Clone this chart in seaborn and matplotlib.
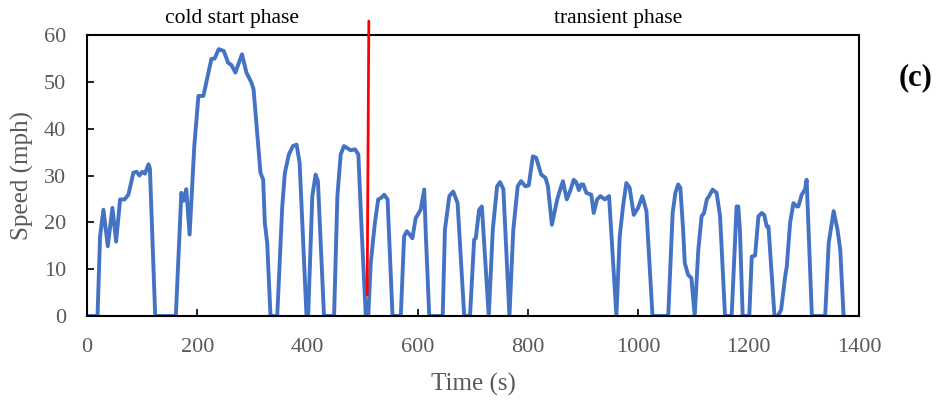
import matplotlib
matplotlib.use("Agg")
import matplotlib.pyplot as plt
import seaborn as sns
import pandas as pd

# ---- data ----
time_s = [0, 19, 23.6, 29.7, 37.6, 46, 52.7, 60, 68, 75, 84, 90, 95, 100, 105, 111.5, 114, 123.6,
          161, 171, 175, 180, 186, 194.5, 202, 211, 217.6, 225.5, 231.5, 238.8, 248, 255.8, 261.8,
          269, 281, 289, 298, 302, 314.5, 319.4, 322.4, 326.7, 332.7, 344.9, 354, 358.8, 366, 373.3,
          380, 385.5, 398, 401, 408.5, 414.5, 418.7, 429.7, 448, 454, 460, 466, 478, 486, 492, 498,
          505.5, 510, 514.5, 522, 528, 533, 539, 545, 554, 569, 575, 580, 585, 590, 596, 605, 611.5,
          614.5, 620.6, 645, 649, 657, 664, 672, 684, 694.5, 702, 705, 711, 716, 728.5, 735.8, 743.6,
          749, 755, 766, 773, 781, 787, 795, 801, 808.5, 814.5, 823.6, 831.5, 835.8, 843, 852.7, 857,
          863, 870, 877, 882.5, 887, 892, 896, 900, 905.5, 914.5, 918.8, 925, 931, 939, 946.7, 960,
          966, 972, 978, 984, 991.5, 999.4, 1007, 1014.5, 1025.5, 1054, 1062, 1067, 1072, 1076, 1081,
          1084, 1090, 1096, 1102, 1108.5, 1114.5, 1119, 1124, 1128, 1134.5, 1141.8, 1148, 1157, 1169,
          1178, 1181, 1184, 1189, 1201, 1205.5, 1211.5, 1217.6, 1223.6, 1228, 1232.7, 1235.8, 1246.7,
          1252.7, 1258.7, 1266, 1269, 1275, 1281, 1287, 1290, 1296, 1302, 1305, 1314.5, 1338.7, 1345,
          1354, 1361, 1366, 1372]
speed_mph = [0, 0, 17, 22.7, 14.9, 23.1, 15.9, 24.9, 24.9, 25.9, 30.6, 30.8, 30, 30.8, 30.4, 32.4, 31.5, 0,
             0, 26.3, 24.6, 27.1, 17.4, 36.3, 47, 47, 50.6, 54.9, 55, 57, 56.6, 54.1, 53.6,
             52, 55.9, 52, 49.9, 48.4, 30.6, 29.1, 19.9, 15.6, 0, 0, 23.4, 30.6, 34.5, 36.3,
             36.6, 32.7, 0, 0, 25.6, 30.2, 28.8, 0, 0, 25.6, 34.5, 36.3, 35.4, 35.6, 34.5, 18.4,
             0, 0, 11.3, 19.9, 24.9, 25.2, 25.9, 24.9, 0, 0, 17, 18.1, 17.4, 16.6, 20.9, 22.7, 27,
             17, 0, 0, 18.4, 25.6, 26.6, 24.1, 0, 0, 16.3, 16.6, 22.7, 23.4, 0, 18.4, 27.7,
             28.6, 27.1, 0, 18.4, 27.7, 28.8, 27.7, 27.9, 34.1, 33.8, 30.2, 29.5, 27.7, 19.5, 24.9, 26.6,
             28.8, 24.9, 27, 29.1, 28.6, 26.9, 28.1, 28.1, 26.3, 25.9, 22, 24.9, 25.6, 24.9, 25.6, 0,
             17, 23.4, 28.4, 27.4, 21.6, 23.1, 25.6, 22.4, 0, 0, 22, 26.3, 28.1, 27.4, 18.4,
             11.3, 8.8, 8.1, 0, 14.1, 21.3, 22, 24.9, 25.6, 27, 26.3, 21.3, 0, 0,
             23.4, 23.4, 18.4, 0, 0, 12.7, 12.9, 21.3, 22, 21.6, 19.1, 19.1, 0,
             0, 1.3, 8.4, 10.6, 19.9, 24.1, 23.4, 23.4, 25.9, 27, 29.1, 0, 0, 15.6,
             22.4, 18.4, 14.1, 0]

boundary_time = [511, 508]
boundary_speed = [63, 4.5]

x_ticks = [0, 200, 400, 600, 800, 1000, 1200, 1400]
y_ticks = [0, 10, 20, 30, 40, 50, 60]
phase_labels = ["cold start phase", "transient phase"]
panel_label = "(c)"

df = pd.DataFrame({"Time (s)": time_s, "Speed (mph)": speed_mph})

sns.set_theme(style="ticks")
plt.rcParams["font.family"] = ["Liberation Serif", "DejaVu Serif"]
plt.rcParams["xtick.direction"] = "in"
plt.rcParams["ytick.direction"] = "in"

fig = plt.figure(figsize=(9.38, 4.01), dpi=100)
ax = fig.add_axes([0.0928, 0.212, 0.823, 0.7005])

sns.lineplot(data=df, x="Time (s)", y="Speed (mph)", ax=ax, color="#4472C4",
             linewidth=2.8, estimator=None, sort=False,
             solid_joinstyle="round", solid_capstyle="round")
ax.plot(boundary_time, boundary_speed, color="#FF0000", linewidth=2.0, clip_on=False, zorder=5)

ax.set_xlim(0, 1400)
ax.set_ylim(0, 60)
ax.set_xticks(x_ticks)
ax.set_yticks(y_ticks)
ax.tick_params(axis="both", labelsize=16, labelcolor="#595959", length=5, width=1.2, color="black")
ax.tick_params(axis="x", pad=16)
ax.tick_params(axis="y", pad=15)
for s in ax.spines.values():
    s.set_visible(True)
    s.set_linewidth(1.5)
    s.set_color("black")
ax.set_xlabel("Time (s)", fontsize=18, color="#595959", labelpad=11)
ax.set_ylabel("Speed (mph)", fontsize=18, color="#595959", labelpad=7)

fig.text(232 / 938, 1 - 19 / 401, phase_labels[0], ha="center", va="center", fontsize=15.5, color="black")
fig.text(618 / 938, 1 - 19 / 401, phase_labels[1], ha="center", va="center", fontsize=15.5, color="black")
fig.text(916 / 938, 1 - 78 / 401, panel_label, ha="center", va="center", fontsize=22,
         fontweight="bold", color="black")

fig.savefig("out.png", dpi=100)
